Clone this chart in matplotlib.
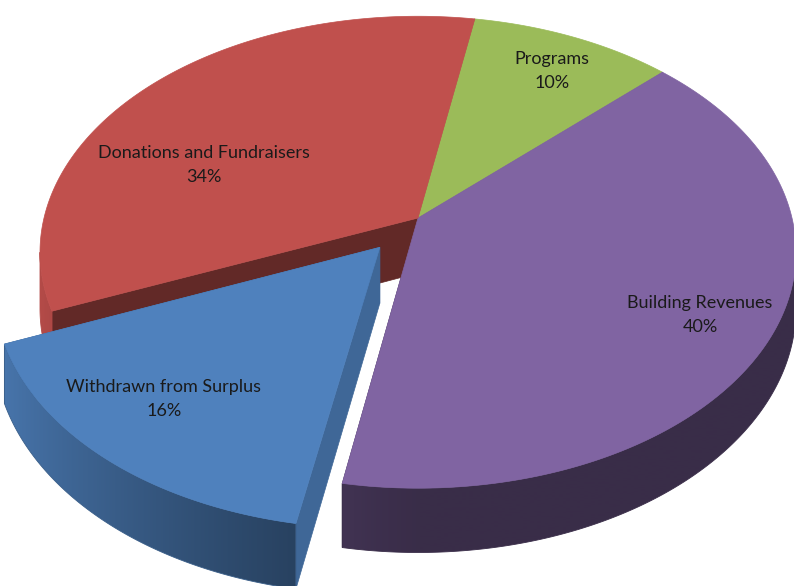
import numpy as np
import matplotlib
matplotlib.use("Agg")
import matplotlib.pyplot as plt
from matplotlib.patches import Polygon
from matplotlib.colors import to_rgb

# ---- data ----
labels = ["Programs", "Building Revenues", "Withdrawn from Surplus", "Donations and Fundraisers"]
values = [10, 40, 16, 34]
colors = ["#9BBB59", "#8064A2", "#4F81BD", "#C0504D"]
explode = [0, 0, 0.16, 0]
label_pos = [(552, 71), (700, 315), (164, 399), (204, 165)]

# ---- geometry (pixel space) ----
W, H = 794, 586
CX, CY = 418, 218
A, B, K = 374, 231.0, 0.145
DEPTH = 55
START = 10.0
SIL = np.degrees(np.arccos(-K))  # silhouette angle (right side)

fig = plt.figure(figsize=(W / 100, H / 100), dpi=100)
ax = fig.add_axes([0, 0, 1, 1])
ax.set_xlim(0, W)
ax.set_ylim(H, 0)
ax.axis("off")


def proj(X, Z, down=0.0):
    w = 1 - K * Z
    return CX + A * X / w, CY + B * Z / w + down * DEPTH / w


def shade(c, f):
    r, g, b = to_rgb(c)
    return (r * f, g * f, b * f)


def wall_factor(t):
    c = np.cos(np.radians(t - 270))
    return 0.45 + 0.5 * np.maximum(0.0, c) ** 1.2


total = float(sum(values))
bounds = []
acc = START
for v in values:
    span = 360.0 * v / total
    bounds.append((acc, acc + span))
    acc += span


def slice_geom(i):
    t0, t1 = bounds[i]
    mid = np.radians((t0 + t1) / 2)
    e = explode[i]
    ox, oz = e * np.sin(mid), -e * np.cos(mid)
    return t0, t1, ox, oz


def pt(t, ox, oz, r=1.0, down=0.0):
    tr = np.radians(t)
    return proj(r * np.sin(tr) + ox, -r * np.cos(tr) + oz, down)


def draw_faces(i, factor):
    t0, t1, ox, oz = slice_geom(i)
    for t in (t0, t1):
        quad = [pt(t, ox, oz, 0), pt(t, ox, oz, 1), pt(t, ox, oz, 1, 1), pt(t, ox, oz, 0, 1)]
        c = shade(colors[i], factor)
        ax.add_patch(Polygon(quad, closed=True, fc=c, ec=c, lw=0.5, zorder=1))


def draw_wall(i):
    t0, t1, ox, oz = slice_geom(i)
    lo, hi = max(t0, SIL), min(t1, 360.0 - SIL)
    if hi <= lo:
        return
    ts = np.linspace(lo, hi, 300)
    top = [pt(t, ox, oz) for t in ts]
    bot = [pt(t, ox, oz, 1, 1) for t in ts[::-1]]
    poly = Polygon(top + bot, closed=True, fc="none", ec="none", zorder=1)
    ax.add_patch(poly)
    xs = np.array([p[0] for p in top])
    fs = wall_factor(ts)
    order = np.argsort(xs)
    xs_s, fs_s = xs[order], fs[order]
    allp = np.array(top + bot)
    x0, x1 = allp[:, 0].min() - 1, allp[:, 0].max() + 1
    y0, y1 = allp[:, 1].min() - 1, allp[:, 1].max() + 1
    ncol = max(2, int((x1 - x0) * 2))
    gx = np.linspace(x0, x1, ncol)
    gf = np.interp(gx, xs_s, fs_s)
    base = np.array(to_rgb(colors[i]))
    img = (gf[:, None] * base[None, :])[None, :, :]
    im = ax.imshow(img, extent=[x0, x1, y1, y0], aspect="auto",
                   interpolation="bilinear", zorder=1)
    im.set_clip_path(poly)
    # thin edge for anti-aliased outline
    ax.add_patch(Polygon(top + bot, closed=True, fc="none",
                         ec=shade(colors[i], float(fs.mean())), lw=0.6, zorder=1))


def draw_top(i):
    t0, t1, ox, oz = slice_geom(i)
    ts = np.linspace(t0, t1, 200)
    poly = [pt(0, ox, oz, 0)] + [pt(t, ox, oz) for t in ts]
    ax.add_patch(Polygon(poly, closed=True, fc=colors[i], ec=colors[i], lw=0.5, zorder=1))


normal = [i for i in range(len(values)) if explode[i] == 0]
exploded = [i for i in range(len(values)) if explode[i] != 0]

for i in normal:
    draw_faces(i, 0.51)
for i in normal:
    draw_wall(i)
for i in normal:
    draw_top(i)
for i in exploded:
    draw_faces(i, 0.8)
    draw_wall(i)
    draw_top(i)

# ---- labels ----
for i, (lx, ly) in enumerate(label_pos):
    pct = "{:.0f}%".format(100 * values[i] / total)
    ax.text(lx, ly - 12, labels[i], ha="center", va="center", fontsize=13,
            family="Lato", color="#1a1a1a", zorder=5)
    ax.text(lx, ly + 12, pct, ha="center", va="center", fontsize=13,
            family="Lato", color="#1a1a1a", zorder=5)

fig.savefig("out.png", dpi=100)
